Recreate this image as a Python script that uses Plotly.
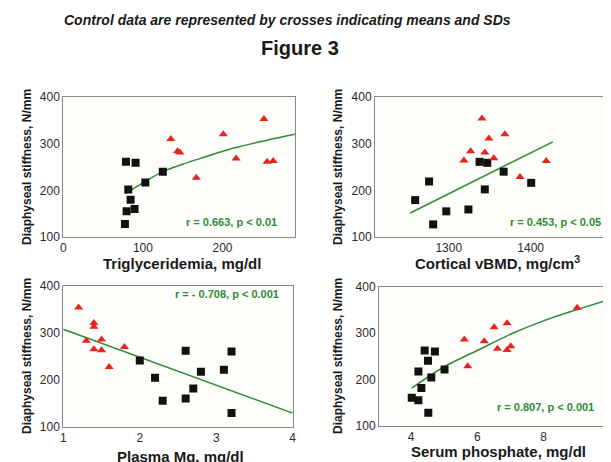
import plotly.graph_objects as go

# ---- Data ----
# Panel 1: Triglyceridemia
tg_ctrl_x = [78.7, 90.8, 81.6, 84.5, 79.5, 89.5, 77.4, 103, 125]
tg_ctrl_y = [261, 259, 202, 180, 155, 160, 128, 217, 240]
tg_pt_x = [135, 143.5, 146.4, 167, 201, 217, 252, 256, 263.6]
tg_pt_y = [310, 284, 281, 227, 320, 268, 353, 261, 263]
tg_fit_x = [78, 90, 103, 125, 150, 171.5, 213, 255, 291]
tg_fit_y = [192.5, 206, 219, 240, 256, 268, 290, 307, 320]

# Panel 2: Cortical vBMD
bmd_ctrl_x = [1259, 1276, 1281, 1297, 1324, 1337.6, 1347, 1344, 1367, 1400.6]
bmd_ctrl_y = [179, 219, 127, 155, 159, 261, 259, 202, 240, 216]
bmd_pt_x = [1318.5, 1326.7, 1340.5, 1344, 1349, 1355, 1368.5, 1387, 1419]
bmd_pt_y = [264, 284, 354, 281, 311, 269, 320, 228.6, 263]
bmd_fit_x = [1253, 1427]
bmd_fit_y = [151.4, 304]

# Panel 3: Plasma Mg
mg_pt_x = [1.2, 1.3, 1.4, 1.4, 1.4, 1.5, 1.5, 1.6, 1.8]
mg_pt_y = [354, 283, 321, 313, 265, 286, 263, 227, 270]
mg_ctrl_x = [2.0, 2.2, 2.3, 2.6, 2.6, 2.7, 2.8, 3.1, 3.2, 3.2]
mg_ctrl_y = [241, 204, 155, 262, 160, 181, 217, 221, 260, 129]
mg_fit_x = [1.0, 4.0]
mg_fit_y = [307.6, 128.5]

# Panel 4: Serum phosphate
ph_ctrl_x = [4.02, 4.22, 4.22, 4.31, 4.41, 4.51, 4.52, 4.61, 4.72, 5.01]
ph_ctrl_y = [160, 155, 217, 181, 262, 240, 128, 204, 260, 221]
ph_pt_x = [5.61, 5.71, 6.21, 6.51, 6.61, 6.90, 6.90, 7.01, 9.02]
ph_pt_y = [286, 228, 282, 312, 266, 321, 263, 271, 354]
ph_fit_x = [4.02, 5.0, 6.0, 7.0, 8.0, 9.0, 10.04]
ph_fit_y = [181, 227, 262, 297, 326, 350, 373]

y_ticks = [100, 200, 300, 400]
x_titles = ["Triglyceridemia, mg/dl", "Cortical vBMD, mg/cm<sup>3</sup>",
            "Plasma Mg, mg/dl", "Serum phosphate, mg/dl"]
y_title = "Diaphyseal stiffness, N/mm"
r_labels = ["r = 0.663, p < 0.01", "r = 0.453, p < 0.05",
            "r = - 0.708, p < 0.001", "r = 0.807, p < 0.001"]
main_title = "Control data are represented by crosses indicating means and SDs"
fig_label = "Figure 3"

# ---- Styling ----
OFF = 8                     # default page body margin
PW, PH = 611, 462           # window size
W, H = PW - OFF, PH - OFF   # figure size
FONT = "Liberation Sans, Arial, sans-serif"
GREEN = "#2f8a3a"
RED = "#e8231f"
BLACK = "#111111"


def fx_(p):
    return (p - OFF) / W


def fy_(p):
    return 1 - (p - OFF) / H


fig = go.Figure()

panels = [
    (tg_ctrl_x, tg_ctrl_y, tg_pt_x, tg_pt_y, tg_fit_x, tg_fit_y, "spline"),
    (bmd_ctrl_x, bmd_ctrl_y, bmd_pt_x, bmd_pt_y, bmd_fit_x, bmd_fit_y, "linear"),
    (mg_ctrl_x, mg_ctrl_y, mg_pt_x, mg_pt_y, mg_fit_x, mg_fit_y, "linear"),
    (ph_ctrl_x, ph_ctrl_y, ph_pt_x, ph_pt_y, ph_fit_x, ph_fit_y, "spline"),
]

for i, (cx, cy, px, py, fx, fy, shape) in enumerate(panels):
    xa = "x" if i == 0 else f"x{i+1}"
    ya = "y" if i == 0 else f"y{i+1}"
    fig.add_trace(go.Scatter(x=fx, y=fy, mode="lines", xaxis=xa, yaxis=ya,
                             line=dict(color=GREEN, width=1.5, shape=shape),
                             showlegend=False, hoverinfo="skip"))
    fig.add_trace(go.Scatter(x=cx, y=cy, mode="markers", xaxis=xa, yaxis=ya,
                             marker=dict(symbol="square", size=8, color=BLACK),
                             showlegend=False))
    fig.add_trace(go.Scatter(x=px, y=py, mode="markers", xaxis=xa, yaxis=ya,
                             marker=dict(symbol="triangle-up", size=8, color=RED),
                             showlegend=False))

# plot boxes in window pixels (left, right, top, bottom)
px_boxes = [
    (63.3, 295.0, 97.0, 237.0),
    (375.0, 611.0, 97.0, 237.0),
    (63.3, 292.7, 286.0, 426.5),
    (379.0, 611.0, 286.5, 425.7),
]
x_ranges = [[0, 291], [1210, 1498], [1, 4], [3.03, 10.04]]
x_tickvals = [[0, 100, 200], [1300, 1400], [1, 2, 3, 4], [4, 6, 8, 10]]

axis_common = dict(showgrid=False, zeroline=False, showline=True, mirror=True,
                   linecolor="#8a8a8a", linewidth=1, ticks="", automargin=False,
                   ticklabeloverflow="allow",
                   tickfont=dict(family=FONT, size=12, color="#2a2a2a"))

layout = dict(width=W, height=H,
              margin=dict(l=0, r=0, t=0, b=0, pad=0, autoexpand=False),
              paper_bgcolor="white", plot_bgcolor="#fdfdf9",
              font=dict(family=FONT), showlegend=False)

for i, (x0, x1, yt, yb) in enumerate(px_boxes):
    k = "" if i == 0 else str(i + 1)
    layout[f"xaxis{k}"] = dict(domain=[max(0, fx_(x0)), min(1, fx_(x1))], range=x_ranges[i],
                               tickvals=x_tickvals[i], anchor=f"y{k}",
                               **axis_common)
    layout[f"yaxis{k}"] = dict(domain=[fy_(yb), fy_(yt)], range=[100, 400],
                               tickvals=y_ticks, anchor=f"x{k}", **axis_common)

fig.update_layout(**layout)

annotations = []


def add_text(text, x, y, size, color="#1a1a1a", xanchor="center", angle=0):
    annotations.append(dict(text=text, x=fx_(x), y=fy_(y), xref="paper", yref="paper",
                            showarrow=False, xanchor=xanchor, yanchor="middle",
                            textangle=angle, font=dict(family=FONT, size=size, color=color)))


add_text(f"<b><i>{main_title}</i></b>", 287, 20, 14)
add_text(f"<b>{fig_label}</b>", 300, 48, 20)

x_title_pos = [(182, 263), (497, 262), (180, 456), (498, 451)]
y_title_pos = [(27, 167), (338, 167), (27, 356), (338, 356)]
r_pos = [(279, 222), (603, 222), (281, 294), (596, 407)]

for i in range(4):
    add_text(f"<b>{x_titles[i]}</b>", *x_title_pos[i], 15)
    add_text(f"<b>{y_title}</b>", *y_title_pos[i], 12, angle=-90)
    add_text(f"<b>{r_labels[i]}</b>", *r_pos[i], 11, color=GREEN, xanchor="right")

fig.update_layout(annotations=annotations)

fig.write_html("out.html")
